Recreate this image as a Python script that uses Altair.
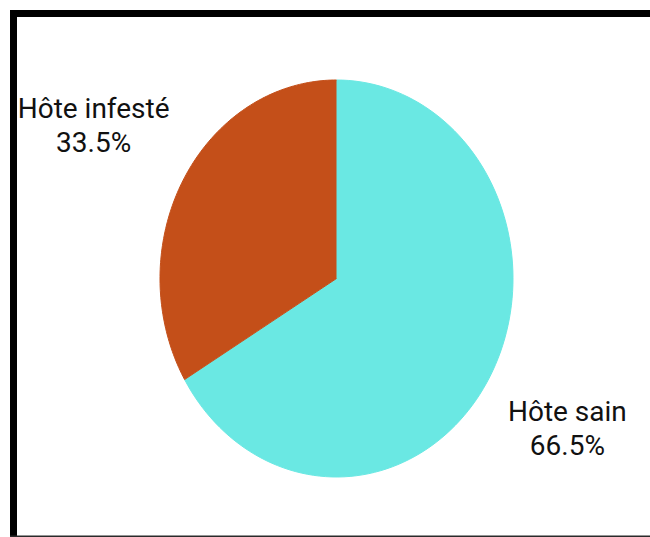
import altair as alt
import pandas as pd

# ---- data ----
categories = ["Hôte sain", "Hôte infesté"]
values = [66.5, 33.5]
slice_order = [0, 1]
colors = ["#6ae8e3", "#c44f19"]

df = pd.DataFrame({"category": categories, "value": values, "order": slice_order})

# plot area = bounding box of the (elliptical) pie
W, H = 353, 397
PAD = {"left": 160, "top": 80, "right": 137, "bottom": 60}
STEPS = 120
LABEL_R = 1.545

xs = alt.Scale(domain=[-1, 1], nice=False, zero=False)
ys = alt.Scale(domain=[-1, 1], nice=False, zero=False)
cscale = alt.Scale(domain=categories, range=colors)

base = (
    alt.Chart(df)
    .transform_window(cum="sum(value)", sort=[alt.SortField("order")], frame=[None, 0])
    .transform_joinaggregate(total="sum(value)")
    .transform_calculate(
        t0="(datum.cum - datum.value) / datum.total",
        t1="datum.cum / datum.total",
    )
)

pie = (
    base.transform_calculate(k=f"sequence(-1, {STEPS + 1})")
    .transform_flatten(["k"])
    .transform_calculate(
        t=f"datum.t0 + (datum.t1 - datum.t0) * max(datum.k, 0) / {STEPS}",
        px="datum.k < 0 ? 0 : sin(2 * PI * datum.t)",
        py="datum.k < 0 ? 0 : cos(2 * PI * datum.t)",
    )
    .mark_line(filled=True, strokeWidth=1)
    .encode(
        x=alt.X("px:Q", scale=xs, axis=None),
        y=alt.Y("py:Q", scale=ys, axis=None),
        order=alt.Order("k:Q"),
        color=alt.Color("category:N", scale=cscale, legend=None),
        stroke=alt.Stroke("category:N", scale=cscale, legend=None),
    )
)

labels = (
    base.transform_calculate(
        tm="(datum.t0 + datum.t1) / 2",
        lx=f"{LABEL_R} * sin(2 * PI * datum.tm)",
        ly=f"{LABEL_R} * cos(2 * PI * datum.tm)",
        lab="[datum.category, format(datum.value, '.1f') + '%']",
    )
    .mark_text(font="Roboto", fontSize=28, lineHeight=34, baseline="middle",
               align="center", color="#111111", dx=-6, dy=-17)
    .encode(
        x=alt.X("lx:Q", scale=xs, axis=None),
        y=alt.Y("ly:Q", scale=ys, axis=None),
        text="lab:N",
    )
)

one = pd.DataFrame({"a": [0]})
L, T = PAD["left"], PAD["top"]
top_rule = alt.Chart(one).mark_rule(color="black", strokeWidth=7, strokeCap="butt").encode(
    x=alt.value(10 - L), x2=alt.value(650 - L), y=alt.value(13.5 - T)
)
left_rule = alt.Chart(one).mark_rule(color="black", strokeWidth=7, strokeCap="butt").encode(
    x=alt.value(13.5 - L), y=alt.value(10 - T), y2=alt.value(537 - T)
)
bottom_rule = alt.Chart(one).mark_rule(color="#2a2a2a", strokeWidth=1.5, strokeCap="butt").encode(
    x=alt.value(10 - L), x2=alt.value(650 - L), y=alt.value(536.2 - T)
)

chart = (
    alt.layer(pie, labels, top_rule, left_rule, bottom_rule)
    .properties(width=W, height=H, padding=PAD, autosize=alt.AutoSizeParams(type="none"),
                background="white")
    .configure_view(strokeWidth=0)
)

chart.save("out.html", embed_options={"renderer": "svg", "actions": False})
